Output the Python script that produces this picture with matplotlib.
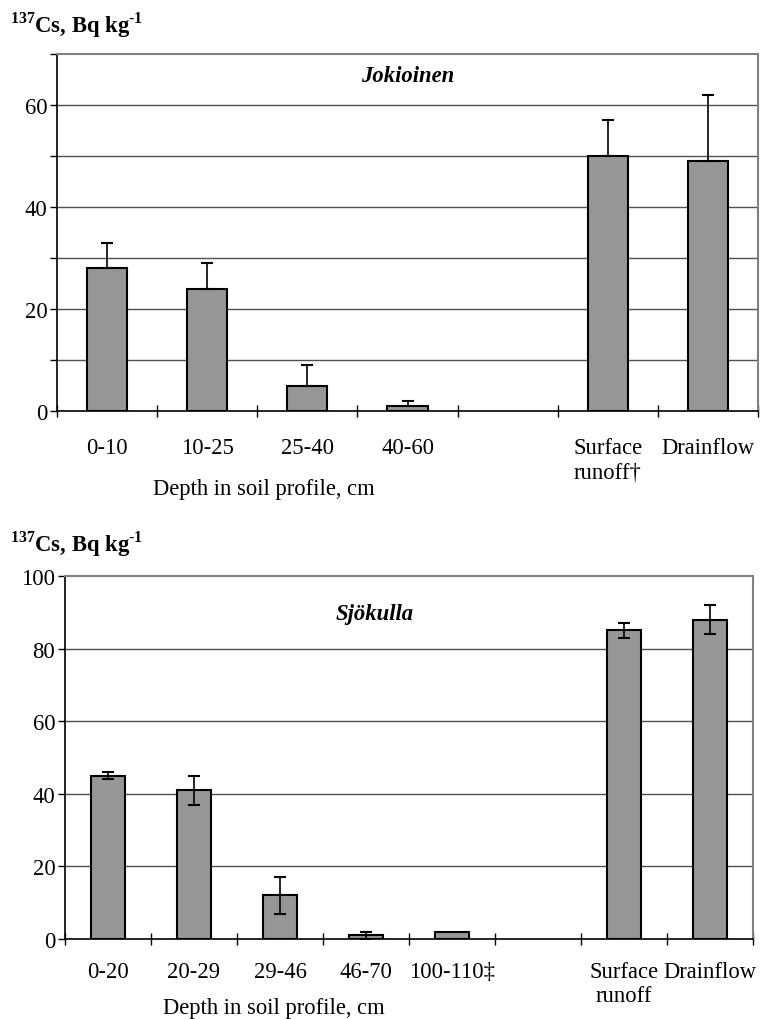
import numpy as np
import matplotlib
matplotlib.use("Agg")
import matplotlib.pyplot as plt

plt.rcParams['font.family'] = ['Liberation Serif', 'DejaVu Serif']
plt.rcParams['mathtext.fontset'] = 'custom'
plt.rcParams['mathtext.rm'] = 'Liberation Serif:bold'
plt.rcParams['mathtext.bf'] = 'Liberation Serif:bold'

# Jokioinen (upper panel), "" = empty slot
jok_labels = ["0-10", "10-25", "25-40", "40-60", "", "Surface\nrunoff\u2020", "Drainflow"]
jok_values = [28, 24, 5, 1, np.nan, 50, 49]
jok_err = [5, 5, 4, 1, np.nan, 7, 13]

# Sjökulla (lower panel)
sjo_labels = ["0-20", "20-29", "29-46", "46-70", "100-110\u2021", "", "Surface\nrunoff", "Drainflow"]
sjo_values = [45, 41, 12, 1, 2, np.nan, 85, 88]
sjo_err = [1, 4, 5, 1, 0, np.nan, 2, 4]

BAR = "#969696"
FS = 16.3


def panel(ax, labels, values, errs, ymax, grid_step, label_step, title, title_x, title_y,
          upper_only, label_x, label_y, pad):
    n = len(labels)
    x = np.arange(n)
    v = np.array(values, dtype=float)
    e = np.array(errs, dtype=float)
    ok = ~np.isnan(v)
    ax.bar(x[ok], v[ok], width=0.4, color=BAR, edgecolor="black", linewidth=1.5, zorder=3)
    for xi, vi, ei in zip(x[ok], v[ok], e[ok]):
        if ei <= 0:
            continue
        lo = 0 if upper_only else ei
        ax.errorbar(xi, vi, yerr=[[lo], [ei]], fmt="none", ecolor="black",
                    elinewidth=1.2, capsize=4.5, capthick=1.5, zorder=4)
    ax.set_xlim(-0.5, n - 0.5)
    ax.set_ylim(0, ymax)
    yt = np.arange(0, ymax + 0.1, grid_step)
    ax.set_yticks(yt)
    ax.set_yticklabels([str(int(t)) if t % label_step == 0 and (t < ymax or ymax == 100) else ""
                        for t in yt])
    for t in yt[1:-1]:
        ax.axhline(t, color="#505050", linewidth=1.0, zorder=1)
    ax.set_xticks(np.arange(n + 1) - 0.5)
    ax.set_xticklabels([])
    ax.set_xticks(x, minor=True)
    ax.set_xticklabels(labels, minor=True, fontsize=FS, va="top")
    ax.tick_params(axis="x", which="major", direction="inout", length=9, width=1)
    ax.tick_params(axis="x", which="minor", length=0, pad=pad)
    ax.tick_params(axis="y", direction="out", length=5, width=1, labelsize=FS, pad=2)
    for s in ["top", "right"]:
        ax.spines[s].set_color("#808080")
        ax.spines[s].set_linewidth(1.5)
    for s in ["left", "bottom"]:
        ax.spines[s].set_color("black")
        ax.spines[s].set_linewidth(1.2)
    ax.text(title_x, title_y, title, transform=ax.transAxes, ha="center", va="center",
            fontsize=FS, fontweight="bold", fontstyle="italic")
    ax.text(label_x, label_y, "Depth in soil profile, cm",
            transform=ax.transAxes, ha="center", va="center", fontsize=FS)


fig = plt.figure(figsize=(7.71, 10.2), dpi=100)
W, H = 771, 1020
# pixel boxes (left, top, right, bottom)
t_l, t_t, t_r, t_b = 57, 55, 758, 412
b_l, b_t, b_r, b_b = 65, 577, 753, 940
ax1 = fig.add_axes([t_l / W, 1 - t_b / H, (t_r - t_l) / W, (t_b - t_t) / H])
ax2 = fig.add_axes([b_l / W, 1 - b_b / H, (b_r - b_l) / W, (b_b - b_t) / H])

panel(ax1, jok_labels, jok_values, jok_err, 70, 10, 20, "Jokioinen", 0.5, 1 - (76 - t_t) / (t_b - t_t),
      True, (264 - t_l) / (t_r - t_l), -(490 - t_b) / (t_b - t_t), 19)
panel(ax2, sjo_labels, sjo_values, sjo_err, 100, 20, 20, "Sjökulla", (375 - b_l) / (b_r - b_l),
      1 - (615 - b_t) / (b_b - b_t), False, (274 - b_l) / (b_r - b_l), -(1009 - b_b) / (b_b - b_t), 16)

ylab = r"$^{137}$Cs, Bq kg$^{\text{-1}}$"
fig.text(10 / W, 1 - 25 / H, ylab, fontsize=FS, fontweight="bold", ha="left", va="center")
fig.text(10 / W, 1 - 544 / H, ylab, fontsize=FS, fontweight="bold", ha="left", va="center")

fig.savefig("out.png", dpi=100)
